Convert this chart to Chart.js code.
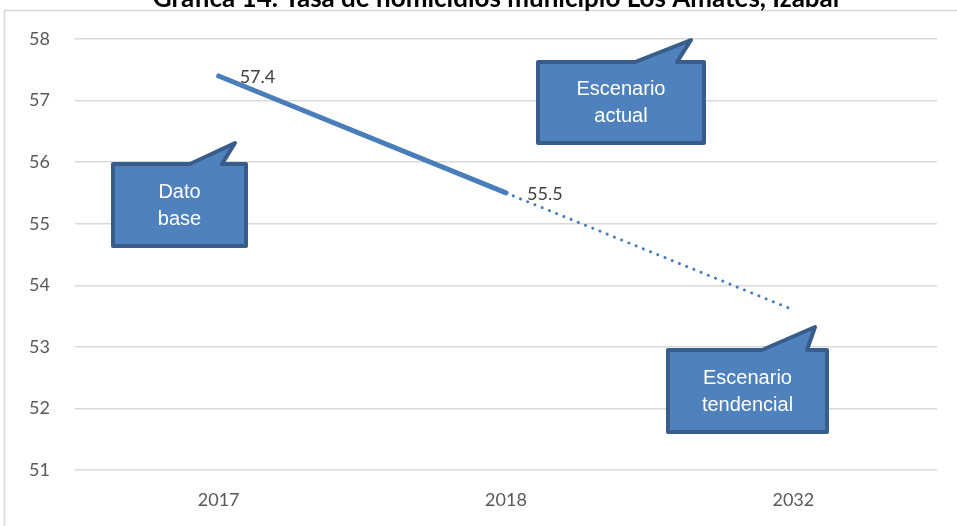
<!DOCTYPE html>
<html>
<head>
<meta charset="utf-8">
<script src="https://cdn.jsdelivr.net/npm/chart.js@4.4.1/dist/chart.umd.min.js"></script>
<style>
  html, body { margin: 0; padding: 0; background: #ffffff; overflow: hidden; }
  #wrap { position: relative; width: 957px; height: 526px; }
</style>
</head>
<body>
<div id="wrap"><canvas id="homicidiosChart" width="957" height="526"></canvas></div>
<script>
// Chart data
const chartTitle = 'Gráfica 14. Tasa de homicidios municipio Los Amates, Izabal';
const years = ['2017', '2018', '2032'];
const escenarioActual = [57.4, 55.5, null];
const escenarioTendencial = [null, 55.5, 53.6];
const yTicks = [51, 52, 53, 54, 55, 56, 57, 58];

// Callout boxes: text lines plus box geometry in pixels
const callouts = [
    { lines: ['Dato', 'base'], box: [113, 164, 246, 246], tail: [190, 235, 143, 222] },
    { lines: ['Escenario', 'actual'], box: [538, 62, 704, 143], tail: [635, 691, 40, 677] },
    { lines: ['Escenario', 'tendencial'], box: [668, 350, 827, 432], tail: [762, 815, 327, 807] }
];

const lineColor = '#4a7ebb';
const gridColor = '#d9d9d9';
const textColor = '#595959';
const baseFont = 'Lato, "Open Sans", sans-serif';

// Frame and clipped title
const framePlugin = {
    id: 'frame',
    beforeDraw(chart) {
        const ctx = chart.ctx;
        ctx.save();
        ctx.fillStyle = '#ffffff';
        ctx.fillRect(0, 0, chart.width, chart.height);
        ctx.strokeStyle = gridColor;
        ctx.lineWidth = 1.5;
        ctx.beginPath();
        ctx.moveTo(4.5, chart.height);
        ctx.lineTo(4.5, 10.5);
        ctx.lineTo(chart.width, 10.5);
        ctx.stroke();
        ctx.fillStyle = '#000000';
        ctx.font = 'bold 26px ' + baseFont;
        ctx.textAlign = 'center';
        ctx.textBaseline = 'alphabetic';
        ctx.fillText(chartTitle, 496, 7);
        ctx.restore();
    }
};

// Value labels to the right of the points
const valueLabels = {
    id: 'valueLabels',
    afterDatasetsDraw(chart) {
        const ctx = chart.ctx;
        const meta = chart.getDatasetMeta(0);
        ctx.save();
        ctx.fillStyle = '#404040';
        ctx.font = '18px ' + baseFont;
        ctx.textAlign = 'left';
        ctx.textBaseline = 'middle';
        meta.data.forEach((pt, i) => {
            const v = escenarioActual[i];
            if (v === null) return;
            ctx.fillText(v.toFixed(1), pt.x + 21, pt.y + 1);
        });
        ctx.restore();
    }
};

// Speech bubble callouts
const calloutPlugin = {
    id: 'callouts',
    afterDraw(chart) {
        const ctx = chart.ctx;
        ctx.save();
        callouts.forEach(c => {
            const [l, t, r, b] = c.box;
            const [ta, tipX, tipY, tb] = c.tail;
            ctx.beginPath();
            ctx.moveTo(l, t);
            ctx.lineTo(ta, t);
            ctx.lineTo(tipX, tipY);
            ctx.lineTo(tb, t);
            ctx.lineTo(r, t);
            ctx.lineTo(r, b);
            ctx.lineTo(l, b);
            ctx.closePath();
            ctx.fillStyle = '#4f81bd';
            ctx.fill();
            ctx.lineJoin = 'round';
            ctx.lineWidth = 4;
            ctx.strokeStyle = '#385d8a';
            ctx.stroke();

            ctx.fillStyle = '#ffffff';
            ctx.font = '20px "Liberation Sans", Arial, sans-serif';
            ctx.textAlign = 'center';
            ctx.textBaseline = 'middle';
            const cx = (l + r) / 2;
            const cy = (t + b) / 2;
            ctx.fillText(c.lines[0], cx, cy - 13);
            ctx.fillText(c.lines[1], cx, cy + 14);
        });
        ctx.restore();
    }
};

const ctx = document.getElementById('homicidiosChart').getContext('2d');
new Chart(ctx, {
    type: 'line',
    data: {
        labels: years,
        datasets: [
            {
                label: 'Escenario actual',
                data: escenarioActual,
                borderColor: lineColor,
                borderWidth: 5,
                borderCapStyle: 'round',
                pointRadius: 0,
                fill: false,
                tension: 0
            },
            {
                label: 'Escenario tendencial',
                data: escenarioTendencial,
                borderColor: lineColor,
                borderWidth: 3,
                borderCapStyle: 'round',
                borderDash: [0.1, 7.7],
                pointRadius: 0,
                fill: false,
                tension: 0
            }
        ]
    },
    options: {
        responsive: false,
        animation: false,
        layout: {
            padding: { top: 39, right: 20, bottom: 0, left: 0 }
        },
        plugins: {
            legend: { display: false },
            tooltip: { enabled: false }
        },
        scales: {
            x: {
                offset: true,
                grid: { display: false, drawTicks: false },
                border: { display: false },
                ticks: {
                    color: textColor,
                    font: { family: baseFont, size: 18 },
                    padding: 19
                },
                afterFit(scale) { scale.height = 56; }
            },
            y: {
                min: 51,
                max: 58,
                afterBuildTicks(scale) { scale.ticks = yTicks.map(v => ({ value: v })); },
                grid: { color: gridColor, lineWidth: 1.5, drawTicks: false },
                border: { display: false },
                ticks: {
                    color: textColor,
                    font: { family: baseFont, size: 18 },
                    padding: 25
                },
                afterFit(scale) { scale.width = 75; }
            }
        }
    },
    plugins: [framePlugin, valueLabels, calloutPlugin]
});
</script>
</body>
</html>
